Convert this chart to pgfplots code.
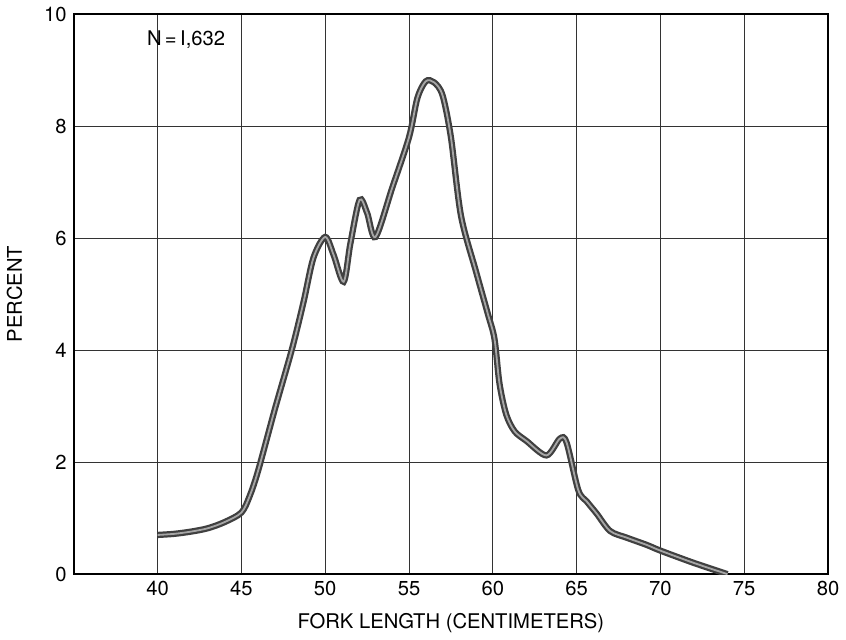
\documentclass[border=0pt]{standalone}
\usepackage{pgfplots}
\pgfplotsset{compat=1.18}
\usepackage{fontspec}
\setmainfont{TeX Gyre Heros}

\begin{document}
\begin{tikzpicture}
\begin{axis}[
scale only axis,
width=373pt, height=277pt,
xmin=35, xmax=80, ymin=0, ymax=10,
xtick={40,45,...,80}, ytick={0,2,...,10},
major tick length=0pt,
grid=major,
grid style={black!80, line width=0.5pt},
axis line style={black, line width=0.8pt},
/pgf/number format/assume math mode=true,
tick label style={font=\normalsize},
xlabel={FORK LENGTH (CENTIMETERS)},
ylabel={PERCENT},
xlabel style={yshift=-2pt},
ylabel style={yshift=4pt},
]
\addplot[smooth, tension=0.5, line width=1.1pt, draw=black!75, double=black!35, double distance=0.9pt]
coordinates {
(40,0.70) (41,0.72) (42,0.76) (43,0.82) (44,0.93) (45,1.1)
(45.5,1.4) (46,1.85) (47,2.95) (48,4.0) (48.7,4.85) (49.3,5.65) (50,6.02)
(50.5,5.7) (51.1,5.22) (51.5,5.9) (52.05,6.68) (52.5,6.45) (53,6.02)
(54,6.9) (55,7.8) (55.5,8.5) (56,8.8) (56.5,8.78) (57,8.55)
(57.5,7.8) (58.1,6.4) (59,5.4) (59.7,4.65) (60.1,4.2) (60.4,3.4)
(60.8,2.85) (61.3,2.55) (62,2.38) (63.2,2.12) (64,2.42) (64.4,2.35) (65.1,1.5)
(65.6,1.3) (66.2,1.08) (67,0.77) (68,0.65) (69.2,0.52) (70,0.42) (72,0.2) (74,0.0)
};
\node at (axis cs:41.7,9.55) {N\,=\,I,632};
\end{axis}
\end{tikzpicture}
\end{document}
